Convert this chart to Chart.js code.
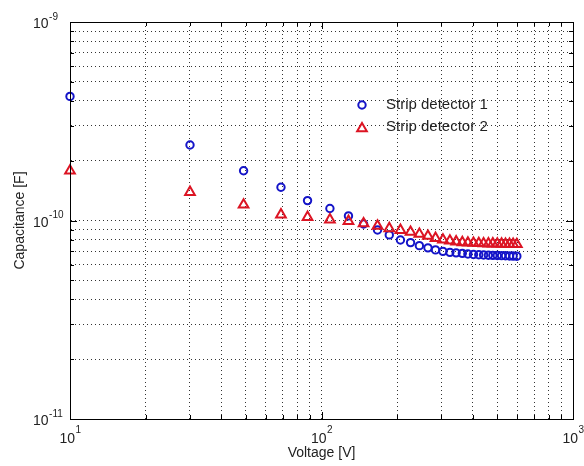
<!DOCTYPE html>
<html>
<head>
<meta charset="utf-8">
<title>Capacitance vs voltage</title>
<script src="https://cdn.jsdelivr.net/npm/chart.js@4.4.1/dist/chart.umd.min.js"></script>
<style>
  body { margin: 0; background: #fff; }
  #wrap { width: 584px; height: 466px; }
</style>
</head>
<body>
<div id="wrap"><canvas id="cv" width="584" height="466"></canvas></div>
<script>
// bias voltage [V]
var voltage = [10, 30, 49, 69, 88, 108, 128, 147, 167, 186, 206, 226, 245, 265, 284, 304,
  324, 343, 363, 382, 402, 422, 441, 461, 480, 500, 520, 539, 559, 578, 598];

// measured capacitance [F]
var det1 = [4.22e-10, 2.40e-10, 1.78e-10, 1.47e-10, 1.26e-10, 1.15e-10, 1.055e-10, 9.6e-11,
  8.96e-11, 8.46e-11, 7.98e-11, 7.74e-11, 7.47e-11, 7.28e-11, 7.11e-11, 6.99e-11, 6.91e-11,
  6.87e-11, 6.83e-11, 6.78e-11, 6.74e-11, 6.72e-11, 6.70e-11, 6.68e-11, 6.67e-11, 6.66e-11,
  6.65e-11, 6.64e-11, 6.63e-11, 6.62e-11, 6.61e-11];
var det2 = [1.78e-10, 1.39e-10, 1.20e-10, 1.07e-10, 1.04e-10, 1.01e-10, 9.93e-11, 9.66e-11,
  9.4e-11, 9.12e-11, 8.94e-11, 8.75e-11, 8.55e-11, 8.35e-11, 8.15e-11, 8.0e-11, 7.9e-11,
  7.82e-11, 7.76e-11, 7.72e-11, 7.7e-11, 7.68e-11, 7.66e-11, 7.65e-11, 7.64e-11, 7.63e-11,
  7.62e-11, 7.61e-11, 7.6e-11, 7.6e-11, 7.59e-11];

var seriesNames = ['Strip detector 1', 'Strip detector 2'];

// log grid positions
var xTicks = [10, 20, 30, 40, 50, 60, 70, 80, 90, 100, 200, 300, 400, 500, 600, 700, 800, 900, 1000];
var yTicks = [1e-11, 2e-11, 3e-11, 4e-11, 5e-11, 6e-11, 7e-11, 8e-11, 9e-11,
  1e-10, 2e-10, 3e-10, 4e-10, 5e-10, 6e-10, 7e-10, 8e-10, 9e-10, 1e-9];
var xMajor = [10, 100, 1000];
var xExp = ['1', '2', '3'];
var yMajor = [1e-11, 1e-10, 1e-9];
var yExp = ['-11', '-10', '-9'];

var FONT = '"Liberation Sans", Arial, Helvetica, sans-serif';
var BLUE = '#1414c8';
var RED = '#dc1423';

function toPoints(xs, ys) {
  return xs.map(function (x, i) { return { x: x, y: ys[i] }; });
}

function powLabel(ctx, x, y, exp, lift) {
  ctx.font = '14px ' + FONT;
  var w = ctx.measureText('10').width;
  ctx.fillText('10', x, y);
  ctx.font = '10px ' + FONT;
  ctx.fillText(exp, x + w + 0.5, y - lift);
}

// box, inward ticks, power-of-ten labels and legend
var axesBox = {
  id: 'axesBox',
  afterDraw: function (chart) {
    var ctx = chart.ctx, a = chart.chartArea;
    var xs = chart.scales.x, ys = chart.scales.y;
    ctx.save();
    ctx.strokeStyle = '#000';
    ctx.lineWidth = 1;
    ctx.strokeRect(a.left + 0.5, a.top + 0.5, a.right - a.left, a.bottom - a.top);

    ctx.beginPath();
    xTicks.forEach(function (v) {
      var x = Math.round(xs.getPixelForValue(v)) + 0.5;
      var len = xMajor.indexOf(v) >= 0 ? 7 : 4;
      ctx.moveTo(x, a.bottom); ctx.lineTo(x, a.bottom - len);
      ctx.moveTo(x, a.top); ctx.lineTo(x, a.top + len);
    });
    yTicks.forEach(function (v) {
      var y = Math.round(ys.getPixelForValue(v)) + 0.5;
      var len = yMajor.indexOf(v) >= 0 ? 7 : 4;
      ctx.moveTo(a.left, y); ctx.lineTo(a.left + len, y);
      ctx.moveTo(a.right, y); ctx.lineTo(a.right - len, y);
    });
    ctx.stroke();

    ctx.fillStyle = '#222';
    ctx.textAlign = 'left';
    ctx.textBaseline = 'alphabetic';
    xMajor.forEach(function (v, i) {
      powLabel(ctx, xs.getPixelForValue(v) - 10.5, a.bottom + 24, xExp[i], 10);
    });
    yMajor.forEach(function (v, i) {
      powLabel(ctx, 33, ys.getPixelForValue(v) + 6, yExp[i], 8.5);
    });

    // legend
    var rows = [{ y: 105, ds: chart.data.datasets[0] }, { y: 127, ds: chart.data.datasets[1] }];
    rows.forEach(function (r) {
      ctx.save();
      ctx.strokeStyle = r.ds.borderColor;
      ctx.fillStyle = 'rgba(0,0,0,0)';
      ctx.lineWidth = r.ds.borderWidth;
      Chart.helpers.drawPoint(ctx, {
        pointStyle: r.ds.pointStyle, radius: r.ds.pointRadius,
        rotation: 0, borderWidth: r.ds.borderWidth
      }, 362, r.ds.pointStyle === 'triangle' ? r.y + 1.5 : r.y);
      ctx.restore();
      ctx.fillStyle = '#222';
      ctx.font = '15px ' + FONT;
      ctx.textBaseline = 'middle';
      ctx.fillText(r.ds.label, 386, r.y);
    });
    ctx.restore();
  }
};

var gridOpts = { color: 'rgba(0,0,0,0.8)', lineWidth: 1, drawTicks: false };
var borderOpts = { display: true, color: '#000', width: 1, dash: [1, 3] };

new Chart(document.getElementById('cv'), {
  type: 'scatter',
  data: {
    datasets: [{
      label: seriesNames[0],
      data: toPoints(voltage, det1),
      pointStyle: 'circle',
      pointRadius: 3.7,
      borderWidth: 2,
      borderColor: BLUE,
      backgroundColor: 'rgba(0,0,0,0)',
      clip: false,
      order: 2
    }, {
      label: seriesNames[1],
      data: toPoints(voltage, det2),
      pointStyle: 'triangle',
      pointRadius: 5.6,
      borderWidth: 2,
      borderColor: RED,
      backgroundColor: 'rgba(0,0,0,0)',
      clip: false,
      order: 1
    }]
  },
  options: {
    responsive: false,
    animation: false,
    events: [],
    layout: { padding: { top: 22, right: 11, left: 0, bottom: 0 } },
    plugins: { legend: { display: false }, tooltip: { enabled: false } },
    scales: {
      x: {
        type: 'logarithmic',
        min: 10, max: 1000,
        grid: gridOpts,
        border: borderOpts,
        ticks: { display: false, autoSkip: false },
        afterBuildTicks: function (s) { s.ticks = xTicks.map(function (v) { return { value: v }; }); },
        afterFit: function (s) { s.height = 47; },
        title: {
          display: true, text: 'Voltage [V]', color: '#222',
          font: { family: FONT, size: 14 }, padding: { top: 0, bottom: 4 }
        }
      },
      y: {
        type: 'logarithmic',
        min: 1e-11, max: 1e-9,
        grid: gridOpts,
        border: borderOpts,
        ticks: { display: false, autoSkip: false },
        afterBuildTicks: function (s) { s.ticks = yTicks.map(function (v) { return { value: v }; }); },
        afterFit: function (s) { s.width = 70; },
        title: {
          display: true, text: 'Capacitance [F]', color: '#222',
          font: { family: FONT, size: 14 }, padding: { top: 12, bottom: 0 }
        }
      }
    }
  },
  plugins: [axesBox]
});
</script>
</body>
</html>
